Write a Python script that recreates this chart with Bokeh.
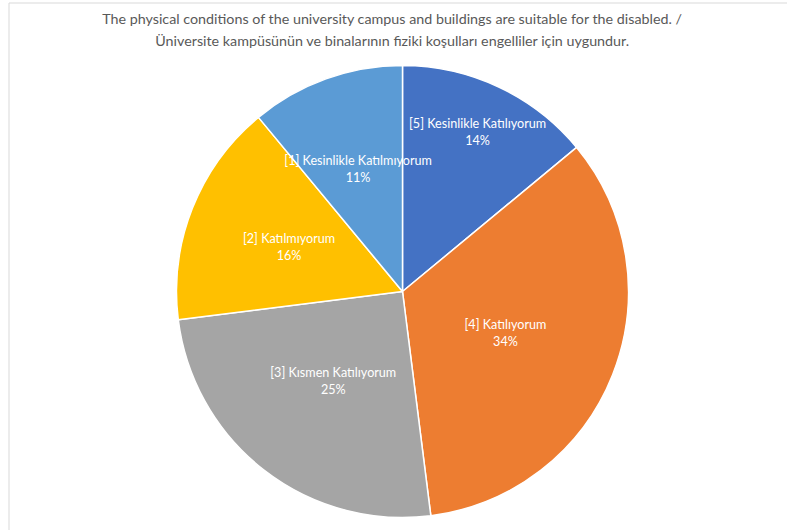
import math
from bokeh.plotting import figure
from bokeh.models import ColumnDataSource, Range1d, Label
from bokeh.core.properties import value
from bokeh.embed import file_html
from bokeh.resources import INLINE

# ---- data ----
categories = ["[5] Kesinlikle Katılıyorum", "[4] Katılıyorum", "[3] Kısmen Katılıyorum",
              "[2] Katılmıyorum", "[1] Kesinlikle Katılmıyorum"]
percents = [14, 34, 25, 16, 11]
colors = ["#4472C4", "#ED7D31", "#A5A5A5", "#FFC000", "#5B9BD5"]
title_lines = ["The physical conditions of the university campus and buildings are suitable for the disabled. /",
               "Üniversite kampüsünün ve binalarının fiziki koşulları engelliler için uygundur."]

# ---- layout (pixel-like coordinates) ----
W, H = 787, 530
cx, cy, R = 402, 239, 226
label_r = [0.78, 0.49, 0.50, 0.54, 0.58]  # best-fit label distance (fraction of radius)
FONT = "Lato"

total = float(sum(percents))
starts, ends, lx, ly, pct = [], [], [], [], []
cum = 0.0
for i, v in enumerate(percents):
    a0 = math.pi / 2 - 2 * math.pi * cum / total
    cum += v
    a1 = math.pi / 2 - 2 * math.pi * cum / total
    starts.append(a0)
    ends.append(a1)
    mid = (a0 + a1) / 2
    lx.append(cx + R * label_r[i] * math.cos(mid))
    ly.append(cy + R * label_r[i] * math.sin(mid))
    pct.append(f"{round(100 * v / total)}%")

src = ColumnDataSource(dict(start=starts, end=ends, color=colors, name=categories,
                            pct=pct, lx=lx, ly=ly, x=[cx] * len(percents), y=[cy] * len(percents)))

p = figure(width=W, height=H, output_backend="svg", toolbar_location=None,
           x_range=Range1d(0, W), y_range=Range1d(0, H), min_border=0)
p.axis.visible = False
p.grid.visible = False
p.outline_line_color = None
p.background_fill_color = "white"

# chart-area border (left and top edges visible in the crop)
p.line(x=[8.5, 8.5, W], y=[0, H - 2.5, H - 2.5], line_color="#D9D9D9", line_width=1)

p.wedge(x="x", y="y", radius=R, radius_units="screen", start_angle="start", end_angle="end",
        direction="clock", fill_color="color", line_color="white", line_width=1.5, source=src)

p.text(x="lx", y="ly", text="name", source=src, text_color="white", text_font=value(FONT),
       text_font_size="12.6px", text_align="center", text_baseline="middle", y_offset=-8)
p.text(x="lx", y="ly", text="pct", source=src, text_color="white", text_font=value(FONT),
       text_font_size="12.6px", text_align="center", text_baseline="middle", y_offset=9)

for i, t in enumerate(title_lines):
    p.add_layout(Label(x=392, y=H - 18 - 22 * i, text=t, text_align="center", text_baseline="middle",
                       text_font=FONT, text_font_size="14.3px", text_color="#595959"))

open("out.html", "w").write(file_html(p, INLINE))
